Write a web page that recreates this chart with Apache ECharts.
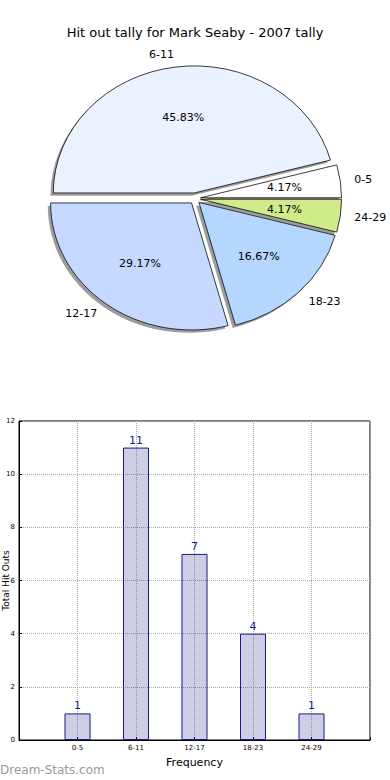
<!DOCTYPE html>
<html><head><meta charset="utf-8">
<script src="https://cdn.jsdelivr.net/npm/echarts@6/dist/echarts.min.js"></script>
<style>html,body{margin:0;padding:0;background:#fff}#c{width:390px;height:780px}</style>
</head><body><div id="c"></div>
<script>
const chartTitle = 'Hit out tally for Mark Seaby - 2007 tally';
const categories = ['0-5', '6-11', '12-17', '18-23', '24-29'];
const hitOuts = [1, 11, 7, 4, 1];
const pieColors = ['#ffffff', '#eaf1ff', '#c5d8ff', '#b4d6ff', '#d0eb8a'];
const xAxisName = 'Frequency';
const yAxisName = 'Total Hit Outs';
const watermark = 'Dream-Stats.com';

const FONT = 'DejaVu Sans';
const PIE = {cx: 195, cy: 198.5, rx: 141, ry: 127, explode: 5.6, shadow: 2.8};
const total = hitOuts.reduce((a, b) => a + b, 0);
function angles(i) {
  let s = 0;
  for (let k = 0; k < i; k++) s += hitOuts[k];
  const a1 = s / total * Math.PI * 2;
  const a2 = (s + hitOuts[i]) / total * Math.PI * 2;
  return [a1, a2];
}
function wedge(i, isShadow) {
  const [a1, a2] = angles(i);
  const mid = (a1 + a2) / 2;
  const ox = PIE.cx + PIE.explode * Math.cos(mid) + (isShadow ? -PIE.shadow : 0);
  const oy = PIE.cy - PIE.explode * Math.sin(mid) + (isShadow ? PIE.shadow : 0);
  return {mid, ox, oy, el: {
    type: 'sector', x: ox, y: oy, scaleY: PIE.ry / PIE.rx,
    shape: {cx: 0, cy: 0, r0: 0, r: PIE.rx, startAngle: -a2, endAngle: -a1, clockwise: true},
    style: isShadow ? {fill: 'rgba(60,60,60,0.5)', stroke: null}
                    : {fill: pieColors[i], stroke: '#000', lineWidth: 0.8, strokeNoScale: true}
  }};
}
function textEl(x, y, text, align) {
  return {type: 'text', x: x, y: y, style: {text: text, fill: '#000', fontSize: 11, fontFamily: FONT,
    align: align, verticalAlign: 'middle', textAlign: align, textVerticalAlign: 'middle'}};
}

const chart = echarts.init(document.getElementById('c'), null, {renderer: 'svg'});
chart.setOption({
  animation: false,
  title: {text: chartTitle, left: 'center', top: 21, textStyle: {fontFamily: FONT, fontSize: 13, fontWeight: 'normal', color: '#000'}},
  graphic: [
    {type: 'text', left: 0, top: 764, style: {text: watermark, fill: '#999', fontSize: 12, fontFamily: FONT}},
    {type: 'text', x: 6, y: 580.5, rotation: Math.PI / 2,
      style: {text: yAxisName, fill: '#000', fontSize: 9, fontFamily: FONT, align: 'center', verticalAlign: 'middle'}}
  ],
  grid: {left: 19, top: 421, width: 351, height: 319, containLabel: false, outerBoundsMode: 'none',
    show: true, borderColor: '#000', borderWidth: 1, backgroundColor: 'transparent'},
  xAxis: {type: 'value', min: -1, max: 5, interval: 1,
    name: xAxisName, nameLocation: 'middle', nameGap: 17, nameTextStyle: {fontFamily: FONT, fontSize: 11, color: '#000'},
    axisLine: {show: true, onZero: false, lineStyle: {color: '#000'}},
    axisTick: {show: true, inside: true, length: 3, lineStyle: {color: '#000'}},
    axisLabel: {fontFamily: FONT, fontSize: 7, color: '#000', margin: 4,
      formatter: v => (categories[v] !== undefined ? categories[v] : '')},
    splitLine: {show: true, lineStyle: {type: 'dotted', color: '#aaa'}}},
  yAxis: {type: 'value', min: 0, max: 12, interval: 2,
    axisLine: {show: true, onZero: false, lineStyle: {color: '#000'}},
    axisTick: {show: true, inside: true, length: 3, lineStyle: {color: '#000'}},
    axisLabel: {fontFamily: FONT, fontSize: 7, color: '#000', margin: 4},
    splitLine: {show: true, lineStyle: {type: 'dotted', color: '#aaa'}}},
  series: [
    {type: 'bar', data: hitOuts.map((v, i) => [i, v]), barWidth: 26,
      itemStyle: {color: 'rgba(40,40,140,0.23)', borderColor: '#1a1a8c', borderWidth: 1},
      label: {show: true, position: 'top', distance: 2, color: '#1a1a8c', fontFamily: FONT, fontSize: 11},
      z: 1},
    {type: 'custom', coordinateSystem: 'none', data: hitOuts.map((v, i) => [i, v]), z: 2,
      renderItem: (params) => wedge(params.dataIndex, true).el},
    {type: 'custom', coordinateSystem: 'none', data: hitOuts.map((v, i) => [i, v]), z: 3,
      renderItem: (params) => {
        const i = params.dataIndex;
        const w = wedge(i, false);
        const c = Math.cos(w.mid), s = Math.sin(w.mid);
        const pct = (hitOuts[i] / total * 100).toFixed(2) + '%';
        const lx = w.ox + 1.1 * PIE.rx * c, ly = w.oy - 1.1 * PIE.ry * s;
        return {type: 'group', children: [
          w.el,
          textEl(w.ox + 0.6 * PIE.rx * c, w.oy - 0.6 * PIE.ry * s, pct, 'center'),
          textEl(lx, ly, categories[i], c > 0.001 ? 'left' : (c < -0.001 ? 'right' : 'center'))
        ]};
      }}
  ]
});
</script></body></html>
